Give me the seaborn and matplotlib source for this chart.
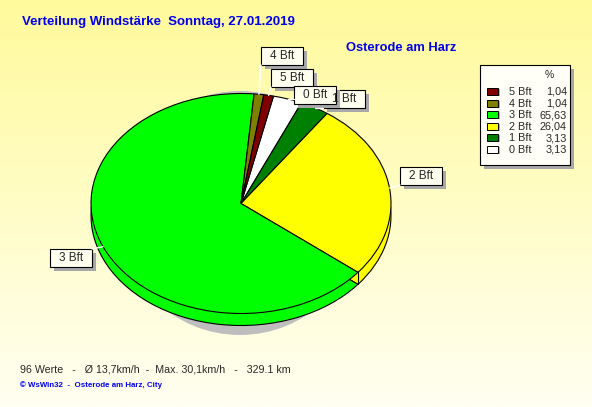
import matplotlib
matplotlib.use("Agg")
import matplotlib.pyplot as plt
from matplotlib.patches import Ellipse, Rectangle
import numpy as np
import seaborn as sns

# data
categories = ["0 Bft", "1 Bft", "2 Bft", "3 Bft", "4 Bft", "5 Bft"]
percent = [3.13, 3.13, 26.04, 65.63, 1.04, 1.04]
colors = ["#FFFFFF", "#008000", "#FFFF00", "#00FF00", "#808000", "#800000"]
legend_order = ["5 Bft", "4 Bft", "3 Bft", "2 Bft", "1 Bft", "0 Bft"]
title = "Verteilung Windstärke  Sonntag, 27.01.2019"
station = "Osterode am Harz"
summary = "96 Werte   -   Ø 13,7km/h  -  Max. 30,1km/h   -   329.1 km"
credit = "© WsWin32  -  Osterode am Harz, City"

sns.set_style("white")
plt.rcParams["font.family"] = ["Liberation Sans", "DejaVu Sans"]

# layout (pixels)
W, H = 592, 407
cx, cy, rx, ry, depth = 241, 203.5, 150, 110, 12
start = 77.5
label_box = {"1 Bft": (344, 99), "2 Bft": (421, 176), "3 Bft": (71, 258),
             "4 Bft": (282, 56), "5 Bft": (292, 78), "0 Bft": (315, 95)}
bw, bh = 42, 18

fig = plt.figure(figsize=(W / 100, H / 100), dpi=100)

# background gradient
bg = fig.add_axes([0, 0, 1, 1])
t = np.linspace(0, 1, 256)[:, None, None]
c_top = np.array([255, 250, 155]) / 255
c_bot = np.array([255, 255, 242]) / 255
bg.imshow(c_top + (c_bot - c_top) * t, aspect="auto", extent=[0, 1, 0, 1])
bg.axis("off")

# pie (elliptical, with side)
pax = fig.add_axes([0, 0, 1, 1])
pax.patch.set_alpha(0)
pax.add_patch(Ellipse((-1 / rx, -9.5 / ry), 2 * 122 / rx, 2 * 122 / ry,
                      color="#BEBEBE", lw=0))
wp = dict(edgecolor="black", linewidth=0.8)
pax.pie(percent, colors=colors, startangle=start, counterclock=False,
        center=(0, -depth / ry), wedgeprops=wp)
pax.pie(percent, colors=colors, startangle=start, counterclock=False,
        wedgeprops=wp)
pax.set_aspect("auto")
pax.set_xlim(-cx / rx, (W - cx) / rx)
pax.set_ylim(-(H - cy) / ry, cy / ry)
pax.axis("off")

frac = np.array(percent) / sum(percent)
bounds = start - 360 * np.cumsum(frac)
for a in bounds:
    r = np.radians(a)
    if np.sin(r) < 0:
        pax.plot([np.cos(r)] * 2, [np.sin(r), np.sin(r) - depth / ry],
                 color="black", lw=0.8)

# overlay in pixel coordinates
ov = fig.add_axes([0, 0, 1, 1])
ov.patch.set_alpha(0)
ov.set_xlim(0, W)
ov.set_ylim(H, 0)
ov.axis("off")

mids = start - 360 * (np.cumsum(frac) - frac / 2)
for cat, m in zip(categories, mids):
    bx, by = label_box[cat]
    px = cx + rx * np.cos(np.radians(m))
    py = cy - ry * np.sin(np.radians(m))
    qx = min(max(px, bx - bw / 2), bx + bw / 2)
    qy = min(max(py, by - bh / 2), by + bh / 2)
    ov.plot([px, qx], [py, qy], color="white", lw=1)

for cat in ["1 Bft", "2 Bft", "3 Bft", "4 Bft", "5 Bft", "0 Bft"]:
    bx, by = label_box[cat]
    ov.add_patch(Rectangle((bx - bw / 2 + 4, by - bh / 2 + 4), bw, bh,
                           color="#A8A8A8", lw=0))
    ov.add_patch(Rectangle((bx - bw / 2, by - bh / 2), bw, bh,
                           facecolor="#FFFFF0", edgecolor="black", lw=0.8))
    ov.text(bx, by, cat, ha="center", va="center", fontsize=8.5)

# legend
lx0, ly0, lx1, ly1 = 480, 65, 570, 165
ov.add_patch(Rectangle((lx0 + 4, ly0 + 4), lx1 - lx0, ly1 - ly0,
                       color="#A8A8A8", lw=0))
ov.add_patch(Rectangle((lx0, ly0), lx1 - lx0, ly1 - ly0,
                       facecolor="#FFFFF8", edgecolor="black", lw=0.8))
ov.text(549, 75, "%", ha="center", va="center", fontsize=7.5)
for i, cat in enumerate(legend_order):
    k = categories.index(cat)
    yy = 92 + i * 11.6
    ov.add_patch(Rectangle((489, yy - 3), 11, 7, color="#B0B0B0", lw=0))
    ov.add_patch(Rectangle((487, yy - 4), 11, 7, facecolor=colors[k],
                           edgecolor="black", lw=0.7))
    ov.text(509, yy, cat, ha="left", va="center", fontsize=7.8)
    ov.text(567, yy, f"{percent[k]:.2f}".replace(".", ","), ha="right",
            va="center", fontsize=7.8)

# texts
ov.text(22, 22, title, ha="left", va="center", fontsize=9.5,
        fontweight="bold", color="#0000EE")
ov.text(346, 48, station, ha="left", va="center", fontsize=9.3,
        fontweight="bold", color="#0000EE")
ov.text(20, 369, summary, ha="left", va="center", fontsize=7.7)
ov.text(20, 385, credit, ha="left", va="center", fontsize=5.7,
        fontweight="bold", color="#0000EE")

fig.savefig("out.png", dpi=100)
